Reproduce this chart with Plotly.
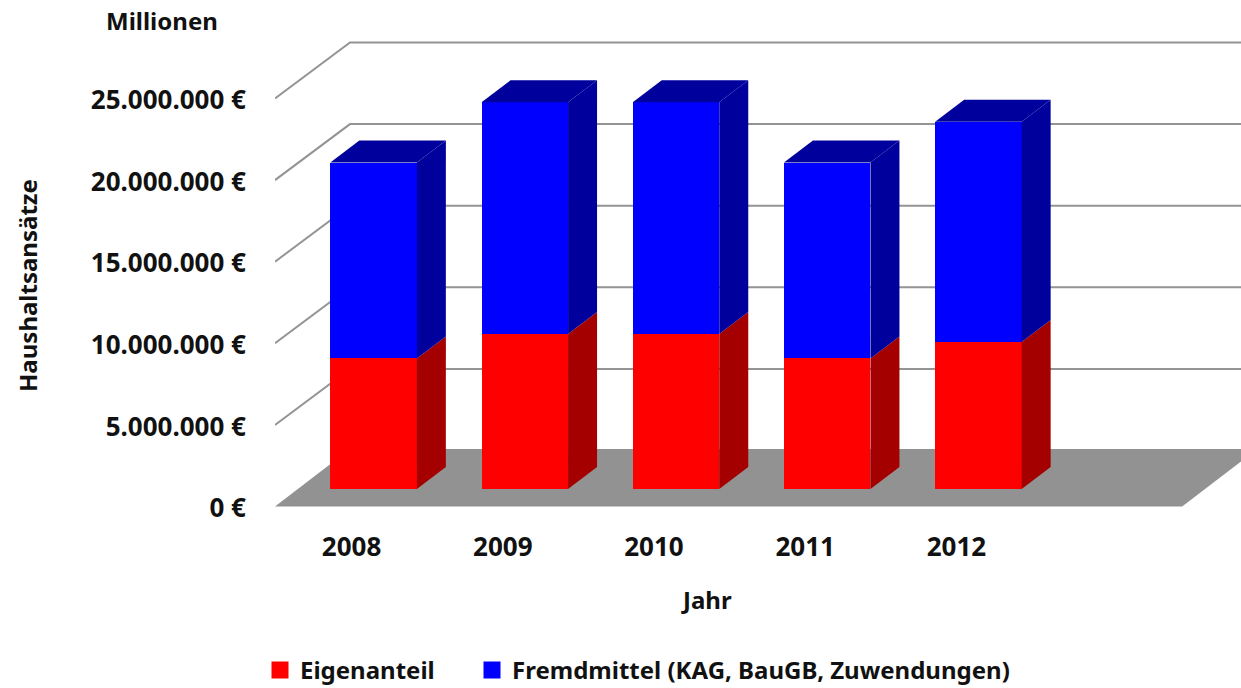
import plotly.graph_objects as go

# Data
years = ["2008", "2009", "2010", "2011", "2012"]
eigenanteil = [8000000, 9500000, 9500000, 8000000, 9000000]
fremdmittel = [12000000, 14200000, 14200000, 12000000, 13500000]
axis_values = [0, 5000000, 10000000, 15000000, 20000000, 25000000]
axis_labels = ["0 €", "5.000.000 €", "10.000.000 €", "15.000.000 €", "20.000.000 €", "25.000.000 €"]

# Canvas and pseudo-3D projection, in pixels
WIDTH, HEIGHT = 1241, 688
AXIS_LEFT, AXIS_BOTTOM = 275, 506.5
AXIS_PAD = 4  # room under the zero line so its tick label stays in range
PX_PER_CATEGORY = 151.2
PX_PER_EURO = 81.6 / 5000000
WALL_DX, WALL_DY = 75, 57.5
GRID_DY = 56
BAR_DX, BAR_DY = 29, 22
BAR_SHIFT_X, BAR_SHIFT_Y = 23, 17.5
BAR_WIDTH_PX = 86.5
LABEL_SHIFT_X, LABEL_SHIFT_Y = 1, 1.5
CATEGORY_SLOTS = 6

FONT = "Noto Sans"
TEXT = "#111111"
GRID = "#949494"
FLOOR = "#929292"
RED, RED_DARK = "#ff0000", "#a50000"
BLUE, BLUE_DARK = "#0000ff", "#00009c"

# Conversions from pixels to data units
dx_units = lambda px: px / PX_PER_CATEGORY
dy_units = lambda px: px / PX_PER_EURO

x_max = dx_units(WIDTH - AXIS_LEFT)
y_max = dy_units(AXIS_BOTTOM)
y_min = -dy_units(AXIS_PAD)
centres = [i + 0.5 for i in range(len(years))]
bar_x = [c + dx_units(BAR_SHIFT_X) for c in centres]
label_x = [c + dx_units(LABEL_SHIFT_X) for c in centres]
label_y = [v - dy_units(LABEL_SHIFT_Y) for v in axis_values]
half = dx_units(BAR_WIDTH_PX) / 2
base = dy_units(BAR_SHIFT_Y)
bdx, bdy = dx_units(BAR_DX), dy_units(BAR_DY)
wdx, wdy = dx_units(WALL_DX), dy_units(WALL_DY)
gdy = dy_units(GRID_DY)

fig = go.Figure()

# Front faces of the stacked columns
fig.add_bar(x=bar_x, y=eigenanteil, base=[base] * len(years), width=half * 2,
            marker=dict(color=RED, line=dict(width=0)), showlegend=False)
fig.add_bar(x=bar_x, y=fremdmittel, base=[base + v for v in eigenanteil], width=half * 2,
            marker=dict(color=BLUE, line=dict(width=0)), showlegend=False)


def polygon_trace(xs, ys, colour):
    fig.add_scatter(x=xs, y=ys, mode="lines", fill="toself", fillcolor=colour,
                    line=dict(width=0, color=colour), hoverinfo="skip", showlegend=False)


# Side faces and the top cap of every column
for x, low, high in zip(bar_x, eigenanteil, fremdmittel):
    right = x + half
    left = x - half
    y0, y1, y2 = base, base + low, base + low + high
    polygon_trace([right, right + bdx, right + bdx, right, right],
                  [y0, y0 + bdy, y1 + bdy, y1, y0], RED_DARK)
    polygon_trace([right, right + bdx, right + bdx, right, right],
                  [y1, y1 + bdy, y2 + bdy, y2, y1], BLUE_DARK)
    polygon_trace([left, left + bdx, right + bdx, right, left],
                  [y2, y2 + bdy, y2 + bdy, y2, y2], BLUE_DARK)

# Legend entries, one legend per series so each can be placed on its own
fig.add_bar(x=[None], y=[None], name="Eigenanteil", showlegend=True, legend="legend",
            marker=dict(color=RED, line=dict(color=RED, width=5)))
fig.add_bar(x=[None], y=[None], name="Fremdmittel (KAG, BauGB, Zuwendungen)", showlegend=True, legend="legend2",
            marker=dict(color=BLUE, line=dict(color=BLUE, width=5)))

# Floor and wall gridlines sit behind the columns
shapes = [dict(type="path", xref="x", yref="y", layer="below", line=dict(width=0),
               fillcolor=FLOOR,
               path=f"M0,0 L{CATEGORY_SLOTS},0 L{CATEGORY_SLOTS + wdx},{wdy} L{wdx},{wdy} Z")]
for v in axis_values[1:]:
    shapes.append(dict(type="path", xref="x", yref="y", layer="below",
                       line=dict(color=GRID, width=2),
                       path=f"M0,{v} L{wdx},{v + gdy} L{CATEGORY_SLOTS + wdx},{v + gdy}"))

annotation_font = dict(family=FONT, size=24, color=TEXT, weight="bold")
annotations = [
    dict(text="Millionen", x=162 / WIDTH, y=1 - 21 / HEIGHT),
    dict(text="Jahr", x=707 / WIDTH, y=1 - 599 / HEIGHT),
    dict(text="Haushaltsansätze", x=27 / WIDTH, y=1 - 286 / HEIGHT, textangle=-90),
]
for a in annotations:
    a.update(xref="paper", yref="paper", showarrow=False, font=annotation_font,
             xanchor="center", yanchor="middle")

tick_font = dict(family=FONT, size=26, color=TEXT, weight="bold")
legend_common = dict(orientation="h", y=1 - 648 / HEIGHT, xanchor="left", yanchor="top",
                     font=dict(family=FONT, size=24, color=TEXT, weight="bold"),
                     bgcolor="rgba(0,0,0,0)", itemclick=False, itemdoubleclick=False)
fig.update_layout(
    width=WIDTH, height=HEIGHT,
    margin=dict(l=0, r=0, t=0, b=0, autoexpand=False),
    paper_bgcolor="white", plot_bgcolor="white",
    barmode="overlay", bargap=0,
    shapes=shapes, annotations=annotations,
    xaxis=dict(domain=[AXIS_LEFT / WIDTH, 1], range=[0, x_max], showgrid=False, zeroline=False,
               tickmode="array", tickvals=label_x, ticktext=years, ticks="", showline=False,
               tickfont=tick_font, ticklabelstandoff=22 - AXIS_PAD),
    yaxis=dict(domain=[1 - (AXIS_BOTTOM + AXIS_PAD) / HEIGHT, 1], range=[y_min, y_max],
               showgrid=False, zeroline=False,
               tickmode="array", tickvals=label_y, ticktext=axis_labels, ticks="", showline=False,
               tickfont=tick_font, ticklabelstandoff=28),
    legend=dict(x=260 / WIDTH, **legend_common),
    legend2=dict(x=472 / WIDTH, **legend_common),
    font=dict(family=FONT),
)

fig.write_html("out.html", config=dict(displayModeBar=False))
